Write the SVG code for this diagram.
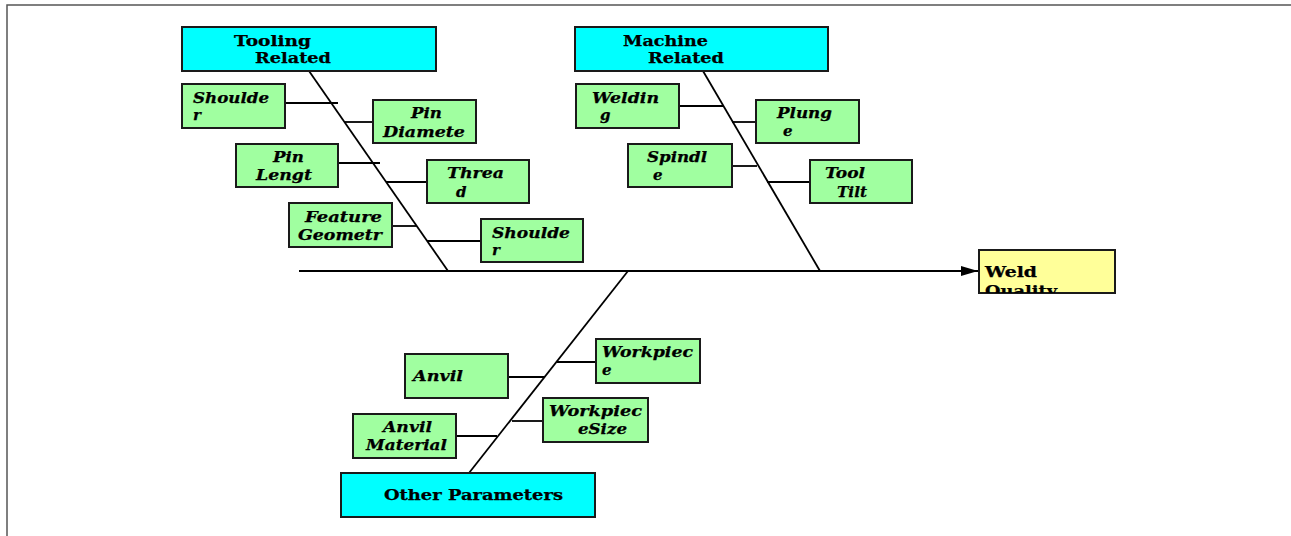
<svg xmlns="http://www.w3.org/2000/svg" width="1291" height="536" viewBox="0 0 1291 536">
<style>
.frame{fill:none;stroke:#555;stroke-width:1.5}
.cat{fill:#00FFFF;stroke:#1a1a1a;stroke-width:2}
.cause{fill:#A0FFA0;stroke:#1a1a1a;stroke-width:2}
.effect{fill:#FFFF99;stroke:#1a1a1a;stroke-width:2}
.ln{stroke:#000;stroke-width:1.8;fill:none}
.t{font-family:"DejaVu Serif","Liberation Serif",serif;font-weight:bold;font-size:15px;fill:#000;stroke:#000;stroke-width:0.25}
.i{font-style:italic}
</style>
<defs>
<marker id="arr" markerWidth="18" markerHeight="12" refX="17" refY="6" orient="auto" markerUnits="userSpaceOnUse">
<path d="M0,1 L17,6 L0,11 Z" fill="#000"/>
</marker>
<clipPath id="wq"><rect x="979" y="250" width="136" height="43"/></clipPath>
</defs>
<rect width="1291" height="536" fill="#fff"/>
<path class="frame" d="M7,536 L7,5 L1291,5"/>

<g id="connectors">
<line class="ln" x1="299" y1="271" x2="978" y2="271" marker-end="url(#arr)"/>
<line class="ln" x1="309" y1="71" x2="448" y2="271"/>
<line class="ln" x1="703" y1="71" x2="820" y2="271"/>
<line class="ln" x1="628" y1="271" x2="469" y2="473"/>
<line class="ln" x1="285" y1="103" x2="338" y2="103"/>
<line class="ln" x1="345" y1="122" x2="373" y2="122"/>
<line class="ln" x1="339" y1="163" x2="380" y2="163"/>
<line class="ln" x1="386" y1="182" x2="427" y2="182"/>
<line class="ln" x1="392" y1="226" x2="417" y2="226"/>
<line class="ln" x1="427" y1="241" x2="481" y2="241"/>
<line class="ln" x1="679" y1="106" x2="723" y2="106"/>
<line class="ln" x1="732" y1="122" x2="756" y2="122"/>
<line class="ln" x1="732" y1="166" x2="757" y2="166"/>
<line class="ln" x1="767" y1="182" x2="810" y2="182"/>
<line class="ln" x1="557" y1="362" x2="596" y2="362"/>
<line class="ln" x1="509" y1="377" x2="545" y2="377"/>
<line class="ln" x1="512" y1="421" x2="543" y2="421"/>
<line class="ln" x1="456" y1="436" x2="497" y2="436"/>
</g>

<g id="tooling-related">
<rect class="cat" x="182" y="27" width="254" height="44"/>
<text class="t" x="234" y="46" textLength="77" lengthAdjust="spacingAndGlyphs">Tooling</text>
<text class="t" x="255" y="63" textLength="76" lengthAdjust="spacingAndGlyphs">Related</text>
</g>
<g id="machine-related">
<rect class="cat" x="575" y="27" width="253" height="44"/>
<text class="t" x="623" y="46" textLength="85" lengthAdjust="spacingAndGlyphs">Machine</text>
<text class="t" x="648" y="63" textLength="76" lengthAdjust="spacingAndGlyphs">Related</text>
</g>
<g id="other-parameters">
<rect class="cat" x="341" y="473" width="254" height="44"/>
<text class="t" x="384" y="500" textLength="179" lengthAdjust="spacingAndGlyphs">Other Parameters</text>
</g>
<g id="weld-quality">
<rect class="effect" x="979" y="250" width="136" height="43"/>
<g clip-path="url(#wq)">
<text class="t" x="985" y="277" textLength="52" lengthAdjust="spacingAndGlyphs">Weld</text>
<text class="t" x="985" y="296" textLength="72" lengthAdjust="spacingAndGlyphs">Quality</text>
</g>
</g>

<g id="shoulder-1">
<rect class="cause" x="182" y="84" width="103" height="44"/>
<text class="t i" x="193" y="103" textLength="76" lengthAdjust="spacingAndGlyphs">Shoulde</text>
<text class="t i" x="193" y="120">r</text>
</g>
<g id="pin-diameter">
<rect class="cause" x="373" y="100" width="103" height="43"/>
<text class="t i" x="411" y="118" textLength="31" lengthAdjust="spacingAndGlyphs">Pin</text>
<text class="t i" x="383" y="137" textLength="82" lengthAdjust="spacingAndGlyphs">Diamete</text>
</g>
<g id="pin-length">
<rect class="cause" x="236" y="144" width="102" height="43"/>
<text class="t i" x="273" y="162" textLength="31" lengthAdjust="spacingAndGlyphs">Pin</text>
<text class="t i" x="256" y="180" textLength="56" lengthAdjust="spacingAndGlyphs">Lengt</text>
</g>
<g id="thread">
<rect class="cause" x="427" y="160" width="102" height="43"/>
<text class="t i" x="447" y="178" textLength="57" lengthAdjust="spacingAndGlyphs">Threa</text>
<text class="t i" x="456" y="197">d</text>
</g>
<g id="feature-geometry">
<rect class="cause" x="289" y="203" width="103" height="44"/>
<text class="t i" x="305" y="222" textLength="77" lengthAdjust="spacingAndGlyphs">Feature</text>
<text class="t i" x="298" y="240" textLength="84" lengthAdjust="spacingAndGlyphs">Geometr</text>
</g>
<g id="shoulder-2">
<rect class="cause" x="481" y="219" width="102" height="43"/>
<text class="t i" x="492" y="238" textLength="78" lengthAdjust="spacingAndGlyphs">Shoulde</text>
<text class="t i" x="492" y="255">r</text>
</g>

<g id="welding">
<rect class="cause" x="576" y="84" width="103" height="44"/>
<text class="t i" x="592" y="103" textLength="67" lengthAdjust="spacingAndGlyphs">Weldin</text>
<text class="t i" x="600" y="120">g</text>
</g>
<g id="plunge">
<rect class="cause" x="756" y="100" width="103" height="43"/>
<text class="t i" x="777" y="118" textLength="55" lengthAdjust="spacingAndGlyphs">Plung</text>
<text class="t i" x="783" y="136">e</text>
</g>
<g id="spindle">
<rect class="cause" x="628" y="144" width="104" height="43"/>
<text class="t i" x="647" y="162" textLength="60" lengthAdjust="spacingAndGlyphs">Spindl</text>
<text class="t i" x="653" y="180">e</text>
</g>
<g id="tool-tilt">
<rect class="cause" x="810" y="160" width="102" height="43"/>
<text class="t i" x="825" y="178" textLength="40" lengthAdjust="spacingAndGlyphs">Tool</text>
<text class="t i" x="837" y="197" textLength="30" lengthAdjust="spacingAndGlyphs">Tilt</text>
</g>

<g id="workpiece">
<rect class="cause" x="596" y="339" width="104" height="44"/>
<text class="t i" x="602" y="357" textLength="91" lengthAdjust="spacingAndGlyphs">Workpiec</text>
<text class="t i" x="602" y="375">e</text>
</g>
<g id="anvil">
<rect class="cause" x="405" y="354" width="103" height="44"/>
<text class="t i" x="413" y="381" textLength="50" lengthAdjust="spacingAndGlyphs">Anvil</text>
</g>
<g id="workpiece-size">
<rect class="cause" x="543" y="398" width="105" height="44"/>
<text class="t i" x="549" y="416" textLength="93" lengthAdjust="spacingAndGlyphs">Workpiec</text>
<text class="t i" x="578" y="434" textLength="49" lengthAdjust="spacingAndGlyphs">eSize</text>
</g>
<g id="anvil-material">
<rect class="cause" x="353" y="414" width="103" height="44"/>
<text class="t i" x="383" y="432" textLength="49" lengthAdjust="spacingAndGlyphs">Anvil</text>
<text class="t i" x="366" y="450" textLength="81" lengthAdjust="spacingAndGlyphs">Material</text>
</g>
</svg>
